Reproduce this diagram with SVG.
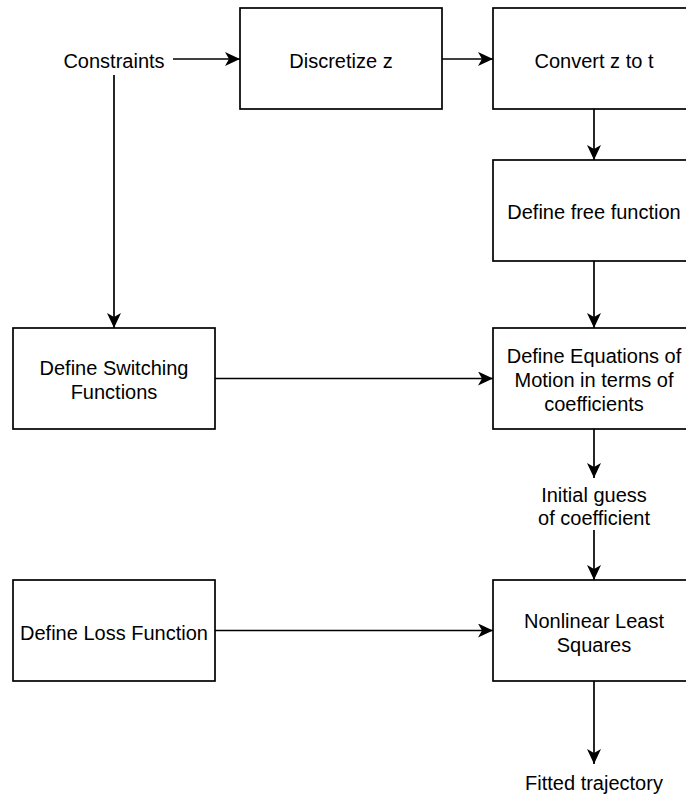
<svg xmlns="http://www.w3.org/2000/svg" width="686" height="797" viewBox="0 0 686 797">
<style>
.box{fill:#fff;stroke:#000;stroke-width:1.7}
.t{font-family:"Liberation Sans",Arial,Helvetica,sans-serif;font-size:20px;fill:#000;text-anchor:middle}
.e{fill:none;stroke:#000;stroke-width:1.7}
</style>
<defs>
<marker id="arr" viewBox="0 0 15 14" refX="15" refY="7" markerWidth="15" markerHeight="14" markerUnits="userSpaceOnUse" orient="auto">
<path d="M0,0 L15,7 L0,14 L4,7 Z" fill="#000"/>
</marker>
</defs>
<rect width="686" height="797" fill="#fff"/>
<g id="connectors">
<path class="e" d="M173,59 H240" marker-end="url(#arr)"/>
<path class="e" d="M442,59 H493" marker-end="url(#arr)"/>
<path class="e" d="M594,109 V160" marker-end="url(#arr)"/>
<path class="e" d="M594,261 V328" marker-end="url(#arr)"/>
<path class="e" d="M114,75 V328" marker-end="url(#arr)"/>
<path class="e" d="M215,378.5 H493" marker-end="url(#arr)"/>
<path class="e" d="M594,429 V478" marker-end="url(#arr)"/>
<path class="e" d="M594,530 V580" marker-end="url(#arr)"/>
<path class="e" d="M215,630.5 H493" marker-end="url(#arr)"/>
<path class="e" d="M594,681 V764" marker-end="url(#arr)"/>
</g>
<g id="constraints">
<text class="t" x="114" y="68">Constraints</text>
</g>
<g id="discretize">
<rect class="box" x="240" y="8" width="202" height="101"/>
<text class="t" x="341" y="68">Discretize z</text>
</g>
<g id="convert">
<rect class="box" x="493" y="8" width="202" height="101"/>
<text class="t" x="594" y="68">Convert z to t</text>
</g>
<g id="free">
<rect class="box" x="493" y="160" width="202" height="101"/>
<text class="t" x="594" y="219">Define free function</text>
</g>
<g id="equations">
<rect class="box" x="493" y="328" width="202" height="101"/>
<text class="t" x="594" y="363">Define Equations of</text>
<text class="t" x="594" y="387">Motion in terms of</text>
<text class="t" x="594" y="411">coefficients</text>
</g>
<g id="switching">
<rect class="box" x="13" y="328" width="202" height="101"/>
<text class="t" x="114" y="375">Define Switching</text>
<text class="t" x="114" y="399">Functions</text>
</g>
<g id="initial">
<text class="t" x="594" y="502">Initial guess</text>
<text class="t" x="594" y="525">of coefficient</text>
</g>
<g id="loss">
<rect class="box" x="13" y="580" width="202" height="101"/>
<text class="t" x="114" y="640">Define Loss Function</text>
</g>
<g id="nls">
<rect class="box" x="493" y="580" width="202" height="101"/>
<text class="t" x="594" y="628">Nonlinear Least</text>
<text class="t" x="594" y="652">Squares</text>
</g>
<g id="fitted">
<text class="t" x="594" y="790">Fitted trajectory</text>
</g>
</svg>
